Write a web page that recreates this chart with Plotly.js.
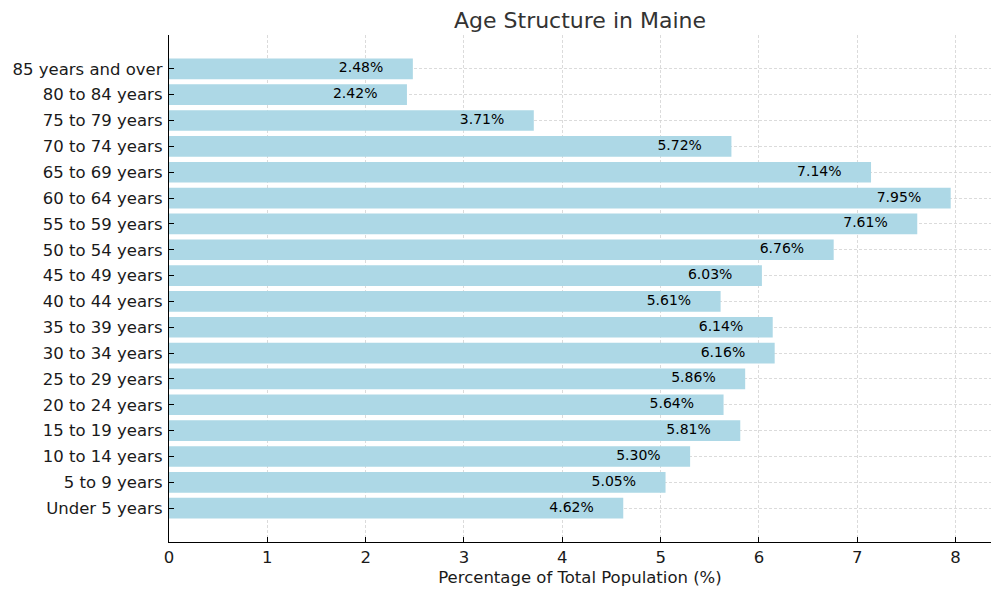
<!DOCTYPE html>
<html>
<head>
<meta charset="utf-8">
<script src="https://cdn.plot.ly/plotly-3.0.1.min.js"></script>
<style>html,body{margin:0;padding:0;background:#fff;}#chart{width:1000px;height:596px;}</style>
</head>
<body>
<div id="chart"></div>
<script>
const ageGroups = [
  "Under 5 years", "5 to 9 years", "10 to 14 years", "15 to 19 years",
  "20 to 24 years", "25 to 29 years", "30 to 34 years", "35 to 39 years",
  "40 to 44 years", "45 to 49 years", "50 to 54 years", "55 to 59 years",
  "60 to 64 years", "65 to 69 years", "70 to 74 years", "75 to 79 years",
  "80 to 84 years", "85 years and over"
];
const percentages = [4.62, 5.05, 5.30, 5.81, 5.64, 5.86, 6.16, 6.14, 5.61, 6.03, 6.76, 7.61, 7.95, 7.14, 5.72, 3.71, 2.42, 2.48];
const xTicks = [0, 1, 2, 3, 4, 5, 6, 7, 8];

const labelOffset = 0.3;
const font = "DejaVu Sans, sans-serif";

const bars = {
  type: "bar",
  orientation: "h",
  y: ageGroups,
  x: percentages,
  width: 0.8,
  marker: { color: "#add8e6", line: { width: 0 } },
  hoverinfo: "skip",
  showlegend: false
};

const labels = {
  type: "scatter",
  mode: "text",
  y: ageGroups,
  x: percentages.map(v => v - labelOffset),
  text: percentages.map(v => v.toFixed(2) + "%"),
  textposition: "middle left",
  textfont: { family: font, size: 14, color: "#000" },
  hoverinfo: "skip",
  showlegend: false,
  cliponaxis: false
};

const layout = {
  width: 1000,
  height: 596,
  paper_bgcolor: "#fff",
  plot_bgcolor: "#fff",
  margin: { l: 169, r: 9, t: 35, b: 54 },
  font: { family: font, color: "#1a1a1a" },
  title: {
    text: "Age Structure in Maine",
    font: { family: font, size: 22, color: "#333333" },
    x: 0.5, xref: "paper", xanchor: "center",
    y: 0.966, yref: "container", yanchor: "middle"
  },
  xaxis: {
    range: [0, 8.36],
    tickvals: xTicks,
    ticktext: xTicks.map(String),
    ticks: "inside",
    ticklen: 5,
    tickwidth: 1,
    tickcolor: "#000",
    tickfont: { family: font, size: 16.5, color: "#1a1a1a" },
    showline: true, linecolor: "#000", linewidth: 1.2,
    showgrid: true, gridcolor: "#d2d2d2", griddash: "3px,2px", gridwidth: 0.8,
    zeroline: false,
    title: { text: "Percentage of Total Population (%)", font: { family: font, size: 16.5, color: "#1a1a1a" }, standoff: 5 }
  },
  yaxis: {
    type: "category",
    categoryorder: "array",
    categoryarray: ageGroups,
    range: [-1.31, 18.31],
    ticks: "inside",
    ticklen: 5,
    tickwidth: 1,
    tickcolor: "#000",
    ticklabelstandoff: 2,
    tickfont: { family: font, size: 16.5, color: "#1a1a1a" },
    showline: true, linecolor: "#000", linewidth: 1.2,
    showgrid: true, gridcolor: "#d2d2d2", griddash: "3px,2px", gridwidth: 0.8,
    zeroline: false
  },
  bargap: 0.2
};

Plotly.newPlot("chart", [bars, labels], layout, { displayModeBar: false, staticPlot: true });
</script>
</body>
</html>
